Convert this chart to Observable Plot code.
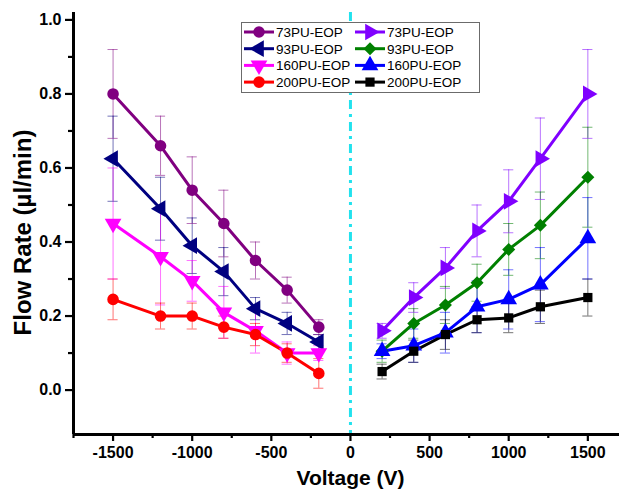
<!DOCTYPE html>
<html>
<head>
<meta charset="utf-8">
<script src="https://cdn.jsdelivr.net/npm/d3@7"></script>
<script src="https://cdn.jsdelivr.net/npm/@observablehq/plot@0.6"></script>
<style>
  html, body { margin: 0; padding: 0; background: #fff; }
  #wrap { position: relative; width: 619px; height: 490px; font-family: "Liberation Sans", Arial, sans-serif; }
  #legend { position: absolute; left: 241px; top: 22px; }
</style>
</head>
<body>
<div id="wrap"></div>
<script>
// ---- Data ----
const voltNeg = [-1500, -1200, -1000, -800, -600, -400, -200];
const voltPos = [200, 400, 600, 800, 1000, 1200, 1500];

const rate73Neg  = [0.80, 0.66, 0.54, 0.45, 0.35, 0.27, 0.17];
const err73Neg   = [0.12, 0.08, 0.09, 0.09, 0.05, 0.035, 0.02];
const rate93Neg  = [0.625, 0.49, 0.39, 0.32, 0.22, 0.18, 0.13];
const err93Neg   = [0.115, 0.085, 0.075, 0.065, 0.03, 0.03, 0.02];
const rate160Neg = [0.45, 0.36, 0.295, 0.21, 0.16, 0.10, 0.10];
const err160Neg  = [0.15, 0.13, 0.055, 0.07, 0.06, 0.03, 0.02];
const rate200Neg = [0.245, 0.20, 0.20, 0.17, 0.15, 0.10, 0.045];
const err200Neg  = [0.055, 0.035, 0.035, 0.03, 0.03, 0.025, 0.04];

const rate73Pos  = [0.16, 0.25, 0.33, 0.43, 0.51, 0.625, 0.80];
const err73Pos   = [0.02, 0.04, 0.055, 0.07, 0.085, 0.11, 0.12];
const rate93Pos  = [0.105, 0.18, 0.23, 0.29, 0.38, 0.445, 0.575];
const err93Pos   = [0.03, 0.04, 0.05, 0.05, 0.07, 0.09, 0.135];
const rate160Pos = [0.105, 0.12, 0.155, 0.225, 0.245, 0.285, 0.41];
const err160Pos  = [0.02, 0.045, 0.055, 0.07, 0.08, 0.10, 0.11];
const rate200Pos = [0.05, 0.105, 0.15, 0.19, 0.195, 0.225, 0.25];
const err200Pos  = [0.02, 0.03, 0.04, 0.035, 0.04, 0.045, 0.05];

const seriesLabels = ["73PU-EOP", "93PU-EOP", "160PU-EOP", "200PU-EOP"];
const yTicks = [0, 0.2, 0.4, 0.6, 0.8, 1.0];
const yMinor = [0.1, 0.3, 0.5, 0.7, 0.9];
const xTicks = [-1500, -1000, -500, 0, 500, 1000, 1500];
const xMinor = [-1750, -1250, -750, -250, 250, 750, 1250];

// ---- Series definitions (style) ----
const series = [
  {id: "n73",  label: seriesLabels[0], volts: voltNeg, rate: rate73Neg,  err: err73Neg,  color: "#800080", symbol: "circle",   rotate: 0,   r: 5.8},
  {id: "n93",  label: seriesLabels[1], volts: voltNeg, rate: rate93Neg,  err: err93Neg,  color: "#000080", symbol: "triangle", rotate: -90, r: 6.2},
  {id: "n160", label: seriesLabels[2], volts: voltNeg, rate: rate160Neg, err: err160Neg, color: "#FF00FF", symbol: "triangle", rotate: 180, r: 6.2},
  {id: "n200", label: seriesLabels[3], volts: voltNeg, rate: rate200Neg, err: err200Neg, color: "#FF0000", symbol: "circle",   rotate: 0,   r: 5.8},
  {id: "p73",  label: seriesLabels[0], volts: voltPos, rate: rate73Pos,  err: err73Pos,  color: "#8000FF", symbol: "triangle", rotate: 90,  r: 6.2},
  {id: "p93",  label: seriesLabels[1], volts: voltPos, rate: rate93Pos,  err: err93Pos,  color: "#008000", symbol: "square",   rotate: 45,  r: 5.2},
  {id: "p160", label: seriesLabels[2], volts: voltPos, rate: rate160Pos, err: err160Pos, color: "#0000FF", symbol: "triangle", rotate: 0,   r: 6.2},
  {id: "p200", label: seriesLabels[3], volts: voltPos, rate: rate200Pos, err: err200Pos, color: "#000000", symbol: "square",   rotate: 0,   r: 5.2}
];

const rows = series.flatMap(s => s.volts.map((v, i) => ({
  id: s.id, v, rate: s.rate[i], err: s.err[i], color: s.color, symbol: s.symbol, rotate: s.rotate, r: s.r
})));

const font = "Liberation Sans, Arial, sans-serif";
const capHalf = 32;

const marks = [
  // dash-dot zero line
  Plot.ruleX([0], {stroke: "#22E2EE", strokeWidth: 3, strokeDasharray: "9,5,3,5"}),
  // error bars
  Plot.ruleX(rows, {x: "v", y1: d => d.rate - d.err, y2: d => d.rate + d.err, stroke: "color", strokeWidth: 1, strokeOpacity: 0.55}),
  Plot.ruleY(rows, {y: d => d.rate + d.err, x1: d => d.v - capHalf, x2: d => d.v + capHalf, stroke: "color", strokeWidth: 1, strokeOpacity: 0.55}),
  Plot.ruleY(rows, {y: d => d.rate - d.err, x1: d => d.v - capHalf, x2: d => d.v + capHalf, stroke: "color", strokeWidth: 1, strokeOpacity: 0.55}),
  // lines
  ...series.map(s => Plot.line(rows.filter(d => d.id === s.id), {x: "v", y: "rate", stroke: s.color, strokeWidth: 3})),
  // markers
  ...series.map(s => Plot.dot(rows.filter(d => d.id === s.id), {x: "v", y: "rate", fill: s.color, stroke: "none", symbol: () => s.symbol, rotate: s.rotate, r: s.r})),
  // axes
  Plot.axisY({ticks: yTicks, tickFormat: d => d.toFixed(1), tickSize: 8, tickPadding: 4, strokeWidth: 2.2, fontSize: 16, fontWeight: "bold", fill: "#000", label: null}),
  Plot.axisY({ticks: yMinor, tickSize: 5, strokeWidth: 2.2, text: null, label: null}),
  Plot.axisX({ticks: xTicks, tickFormat: d => String(d), tickSize: 7, tickPadding: 5, strokeWidth: 2.2, fontSize: 16, fontWeight: "bold", fill: "#000", label: null}),
  Plot.axisX({ticks: xMinor, tickSize: 4, strokeWidth: 2.2, text: null, label: null}),
  Plot.ruleX([-1750], {stroke: "#000", strokeWidth: 3}),
  Plot.ruleY([-0.12], {stroke: "#000", strokeWidth: 3}),
  // axis titles
  Plot.text(["Flow Rate (µl/min)"], {frameAnchor: "left", textAnchor: "middle", lineAnchor: "middle", rotate: -90, dx: -50, dy: 9, fontSize: 24, fontWeight: "bold", fill: "#000"}),
  Plot.text(["Voltage (V)"], {frameAnchor: "bottom", textAnchor: "middle", lineAnchor: "middle", dx: 4, dy: 44, fontSize: 21, fontWeight: "bold", fill: "#000"})
];

const chart = Plot.plot({
  width: 619,
  height: 490,
  marginLeft: 73,
  marginRight: 0,
  marginTop: 12,
  marginBottom: 56,
  style: {fontFamily: font, background: "#fff", color: "#000"},
  x: {domain: [-1750, 1700], axis: null},
  y: {domain: [-0.12, 1.02], axis: null},
  marks
});

const wrap = document.getElementById("wrap");
wrap.appendChild(chart);

// ---- Legend (inside plot area, upper middle) ----
const legendOrder = [
  [series[0], series[4]],
  [series[1], series[5]],
  [series[2], series[6]],
  [series[3], series[7]]
];
const lw = 238, lh = 70;
const leg = d3.select(wrap).append("svg")
  .attr("id", "legend")
  .attr("width", lw + 1).attr("height", lh + 1)
  .style("font-family", font);
leg.append("rect").attr("x", 0.5).attr("y", 0.5).attr("width", lw).attr("height", lh)
  .attr("fill", "#fff").attr("stroke", "#6b6b6b").attr("stroke-width", 1);
const symMap = {circle: d3.symbolCircle, triangle: d3.symbolTriangle, square: d3.symbolSquare};
const colX = [3, 114];
legendOrder.forEach((pair, ri) => {
  const cy = 10 + ri * 16.7;
  pair.forEach((s, ci) => {
    const x0 = colX[ci];
    const g = leg.append("g");
    g.append("line").attr("x1", x0).attr("x2", x0 + 30).attr("y1", cy).attr("y2", cy)
      .attr("stroke", s.color).attr("stroke-width", 3);
    g.append("path")
      .attr("d", d3.symbol(symMap[s.symbol], Math.PI * s.r * s.r)())
      .attr("transform", `translate(${x0 + 15},${cy}) rotate(${s.rotate})`)
      .attr("fill", s.color);
    g.append("text").attr("x", x0 + 32).attr("y", cy).attr("dy", "0.36em")
      .attr("font-size", 13.5).attr("fill", "#000").text(s.label);
  });
});
</script>
</body>
</html>
